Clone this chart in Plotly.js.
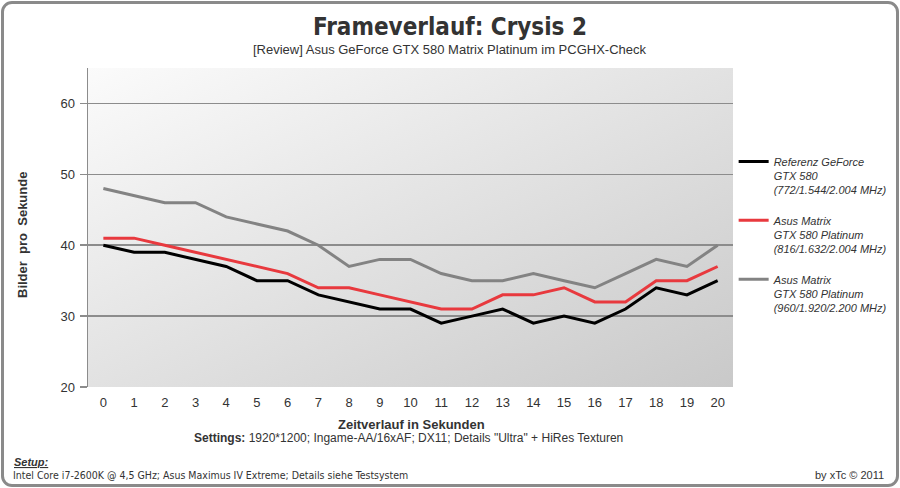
<!DOCTYPE html>
<html>
<head>
<meta charset="utf-8">
<script src="https://cdn.plot.ly/plotly-3.0.1.min.js"></script>
<style>
  html, body { margin: 0; padding: 0; background: #ffffff; }
  #wrap { position: relative; width: 900px; height: 488px; }
  #chart { width: 900px; height: 488px; }
  #frame { position: absolute; left: 1px; top: 1px; width: 892px; height: 480px;
           border: 3px solid #8a8a8a; border-radius: 11px; pointer-events: none; }
</style>
</head>
<body>
<div id="wrap">
  <div id="chart"></div>
  <div id="frame"></div>
</div>
<script>
// ---- data ----
const seconds = [0,1,2,3,4,5,6,7,8,9,10,11,12,13,14,15,16,17,18,19,20];
const referenz = [40,39,39,38,37,35,35,33,32,31,31,29,30,31,29,30,29,31,34,33,35];
const asus816  = [41,41,40,39,38,37,36,34,34,33,32,31,31,33,33,34,32,32,35,35,37];
const asus960  = [48,47,46,46,44,43,42,40,37,38,38,36,35,35,36,35,34,36,38,37,40];
const seriesNames = [
  "Referenz GeForce<br>GTX 580<br>(772/1.544/2.004 MHz)",
  "Asus Matrix<br>GTX 580 Platinum<br>(816/1.632/2.004 MHz)",
  "Asus Matrix<br>GTX 580 Platinum<br>(960/1.920/2.200 MHz)"
];
const seriesColors = ["#000000", "#e8393e", "#838383"];
const yTicks = [20, 30, 40, 50, 60];

const FONT = "Tahoma, 'Liberation Sans', Arial, sans-serif";
const NARROW = "'Liberation Sans Narrow', 'DejaVu Sans Condensed', 'Liberation Sans', sans-serif";
const TXT = "#333333";

const traces = [referenz, asus816, asus960].map((vals, i) => ({
  type: "scatter",
  mode: "lines",
  x: seconds,
  y: vals,
  name: seriesNames[i],
  legendgroup: "g" + i,
  line: { color: seriesColors[i], width: 3 },
  hoverinfo: "x+y"
}));

const gradSvg = '<svg xmlns="http://www.w3.org/2000/svg" width="100" height="100" preserveAspectRatio="none">' +
  '<defs><linearGradient id="g" x1="0" y1="0" x2="1" y2="1">' +
  '<stop offset="0" stop-color="#fbfbfb"/><stop offset="1" stop-color="#c9c9c9"/>' +
  '</linearGradient></defs><rect width="100" height="100" fill="url(#g)"/></svg>';

const layout = {
  width: 900,
  height: 488,
  paper_bgcolor: "rgba(0,0,0,0)",
  plot_bgcolor: "rgba(0,0,0,0)",
  margin: { l: 88, r: 167, t: 68, b: 101, autoexpand: false },
  font: { family: FONT, color: TXT, size: 13 },
  title: {
    text: "<b>Frameverlauf: Crysis 2</b>",
    font: { family: NARROW, size: 24, color: TXT },
    x: 0.5, xanchor: "center",
    y: 1 - 27 / 488, yanchor: "middle", yref: "container"
  },
  xaxis: {
    type: "linear",
    range: [-0.5, 20.5],
    tickmode: "array",
    tickvals: seconds,
    ticktext: seconds.map(String),
    showgrid: false,
    zeroline: false,
    showline: false,
    ticks: "",
    ticklabelstandoff: 6,
    tickfont: { size: 13, color: TXT },
    title: { text: "" },
    fixedrange: true
  },
  yaxis: {
    range: [20, 65],
    tickmode: "array",
    tickvals: yTicks,
    showgrid: true,
    gridcolor: "#8c8c8c",
    gridwidth: 1.5,
    zeroline: false,
    showline: true,
    linecolor: "#8c8c8c",
    linewidth: 1.5,
    ticks: "outside",
    ticklen: 7,
    tickcolor: "#8c8c8c",
    tickwidth: 1.5,
    ticklabelstandoff: 2,
    tickfont: { size: 13, color: TXT },
    title: { text: "" },
    fixedrange: true
  },
  legend: {
    x: 1.001, xanchor: "left",
    y: 0.75, yanchor: "top",
    valign: "top",
    traceorder: "grouped",
    tracegroupgap: 13,
    bgcolor: "rgba(0,0,0,0)",
    font: { family: FONT, size: 11, color: TXT, style: "italic" },
    itemwidth: 30
  },
  images: [{
    source: "data:image/svg+xml;charset=utf-8," + encodeURIComponent(gradSvg),
    xref: "paper", yref: "paper",
    x: 0, y: 1, sizex: 1, sizey: 1,
    xanchor: "left", yanchor: "top",
    sizing: "stretch", layer: "below"
  }],
  annotations: [
    { text: "[Review] Asus GeForce GTX 580 Matrix Platinum im PCGHX-Check",
      xref: "paper", yref: "paper", x: 362/645, y: 1 + (68-49)/319,
      xanchor: "center", yanchor: "middle", showarrow: false,
      font: { size: 13, color: TXT } },
    { text: "<b>Bilder  pro  Sekunde</b>",
      xref: "paper", yref: "paper", x: (22-88)/645, y: (387-235)/319,
      xanchor: "center", yanchor: "middle", textangle: -90, showarrow: false,
      font: { size: 13, color: TXT } },
    { text: "<b>Zeitverlauf in Sekunden</b>",
      xref: "paper", yref: "paper", x: (411-88)/645, y: -(424-387)/319,
      xanchor: "center", yanchor: "middle", showarrow: false,
      font: { size: 13, color: TXT } },
    { text: "<b>Settings:</b> 1920*1200; Ingame-AA/16xAF; DX11; Details \"Ultra\" + HiRes Texturen",
      xref: "paper", yref: "paper", x: (408-88)/645, y: -(438-387)/319,
      xanchor: "center", yanchor: "middle", showarrow: false,
      font: { size: 12, color: TXT } },
    { text: "<b><i><u>Setup:</u></i></b>",
      xref: "paper", yref: "paper", x: (12-88)/645, y: -(462-387)/319,
      xanchor: "left", yanchor: "middle", showarrow: false,
      font: { size: 11, color: TXT } },
    { text: "Intel Core i7-2600K @ 4,5 GHz; Asus Maximus IV Extreme; Details siehe Testsystem",
      xref: "paper", yref: "paper", x: (11-88)/645, y: -(475-387)/319,
      xanchor: "left", yanchor: "middle", showarrow: false,
      font: { family: NARROW, size: 10.5, color: TXT } },
    { text: "by xTc © 2011",
      xref: "paper", yref: "paper", x: (886-88)/645, y: -(475-387)/319,
      xanchor: "right", yanchor: "middle", showarrow: false,
      font: { size: 11, color: TXT } }
  ]
};

Plotly.newPlot("chart", traces, layout, { displayModeBar: false, staticPlot: true });
</script>
</body>
</html>
